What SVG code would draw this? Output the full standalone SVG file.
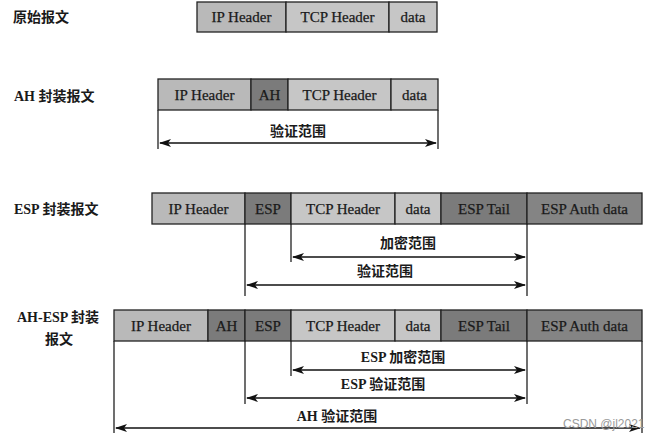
<svg xmlns="http://www.w3.org/2000/svg" width="656" height="437" viewBox="0 0 656 437">
<defs>
<marker id="ah" viewBox="0 0 12 8" refX="11" refY="4" markerWidth="12" markerHeight="8" markerUnits="userSpaceOnUse" orient="auto-start-reverse">
<path d="M0,0 L12,4 L0,8 L3,4 Z" fill="#111"/>
</marker>
</defs>
<style>
.l{fill:#b9b9b9;stroke:#222;stroke-width:1.3}
.m{fill:#c6c6c6;stroke:#222;stroke-width:1.3}
.d{fill:#7b7b7b;stroke:#222;stroke-width:1.3}
.t{font-family:"Liberation Serif","Noto Sans CJK SC",serif;font-size:15px;fill:#1a1a1a;stroke:#1a1a1a;stroke-width:0.25;text-anchor:middle;dominant-baseline:central}
.lab{font-family:"Liberation Serif","Noto Sans CJK SC",serif;font-size:14px;font-weight:bold;fill:#1a1a1a}
.al{font-family:"Liberation Serif","Noto Sans CJK SC",serif;font-size:14px;font-weight:bold;fill:#1a1a1a;text-anchor:middle}
.v{stroke:#222;stroke-width:1.3;fill:none}
.a{stroke:#111;stroke-width:1.6;fill:none;marker-start:url(#ah);marker-end:url(#ah)}
</style>
<g id="labels">
<text class="lab" x="13" y="22">原始报文</text>
<text class="lab" x="14" y="101">AH 封装报文</text>
<text class="lab" x="14" y="214">ESP 封装报文</text>
<text class="lab" x="17" y="322">AH-ESP 封装</text>
<text class="lab" x="45" y="344">报文</text>
</g>
<g id="row1">
<rect class="l" x="197" y="2" width="89" height="30"/>
<rect class="m" x="286" y="2" width="103" height="30"/>
<rect class="m" x="389" y="2" width="48" height="30"/>
<text class="t" x="241.5" y="17">IP Header</text>
<text class="t" x="337.5" y="17">TCP Header</text>
<text class="t" x="413" y="17">data</text>
</g>
<g id="row2">
<rect class="l" x="158" y="79" width="93" height="31"/>
<rect class="d" x="251" y="79" width="37" height="31"/>
<rect class="m" x="288" y="79" width="103" height="31"/>
<rect class="m" x="391" y="79" width="47" height="31"/>
<text class="t" x="204.5" y="95">IP Header</text>
<text class="t" x="269.5" y="95">AH</text>
<text class="t" x="339.5" y="95">TCP Header</text>
<text class="t" x="414.5" y="95">data</text>
</g>
<g id="row3">
<rect class="l" x="152" y="193" width="93" height="31"/>
<rect class="d" x="245" y="193" width="46" height="31"/>
<rect class="m" x="291" y="193" width="104" height="31"/>
<rect class="m" x="395" y="193" width="46" height="31"/>
<rect class="d" x="441" y="193" width="86" height="31"/>
<rect class="d" x="527" y="193" width="115" height="31" style="fill:#848484"/>
<text class="t" x="198.5" y="209">IP Header</text>
<text class="t" x="268" y="209">ESP</text>
<text class="t" x="343" y="209">TCP Header</text>
<text class="t" x="418" y="209">data</text>
<text class="t" x="484" y="209">ESP Tail</text>
<text class="t" x="584.5" y="209">ESP Auth data</text>
</g>
<g id="row4">
<rect class="l" x="114" y="310" width="94" height="31"/>
<rect class="d" x="208" y="310" width="37" height="31"/>
<rect class="d" x="245" y="310" width="46" height="31"/>
<rect class="m" x="291" y="310" width="104" height="31"/>
<rect class="m" x="395" y="310" width="46" height="31"/>
<rect class="d" x="441" y="310" width="86" height="31"/>
<rect class="d" x="527" y="310" width="115" height="31" style="fill:#848484"/>
<text class="t" x="161" y="326">IP Header</text>
<text class="t" x="226.5" y="326">AH</text>
<text class="t" x="268" y="326">ESP</text>
<text class="t" x="343" y="326">TCP Header</text>
<text class="t" x="418" y="326">data</text>
<text class="t" x="484" y="326">ESP Tail</text>
<text class="t" x="584.5" y="326">ESP Auth data</text>
</g>
<g id="connectors">
<path class="v" d="M158,110 V149 M438,110 V149"/>
<path class="a" d="M160,143 H436"/>
<path class="v" d="M291,224 V262 M245,224 V296 M527,224 V296"/>
<path class="a" d="M293,257 H525"/>
<path class="a" d="M247,285 H525"/>
<path class="v" d="M114,341 V433 M642,341 V433 M291,341 V376 M245,341 V404 M527,341 V404"/>
<path class="a" d="M293,370 H525"/>
<path class="a" d="M247,398 H525"/>
<path class="a" d="M116,428 H640"/>
</g>
<g id="range-labels">
<text class="al" x="298" y="136">验证范围</text>
<text class="al" x="408" y="248">加密范围</text>
<text class="al" x="385" y="276">验证范围</text>
<text class="al" x="403" y="362">ESP 加密范围</text>
<text class="al" x="383" y="389">ESP 验证范围</text>
<text class="al" x="337" y="421">AH 验证范围</text>
</g>
<text x="563" y="428" font-family="Liberation Sans, sans-serif" font-size="12" fill="#9a9a9a">CSDN @jl2021</text>
</svg>
